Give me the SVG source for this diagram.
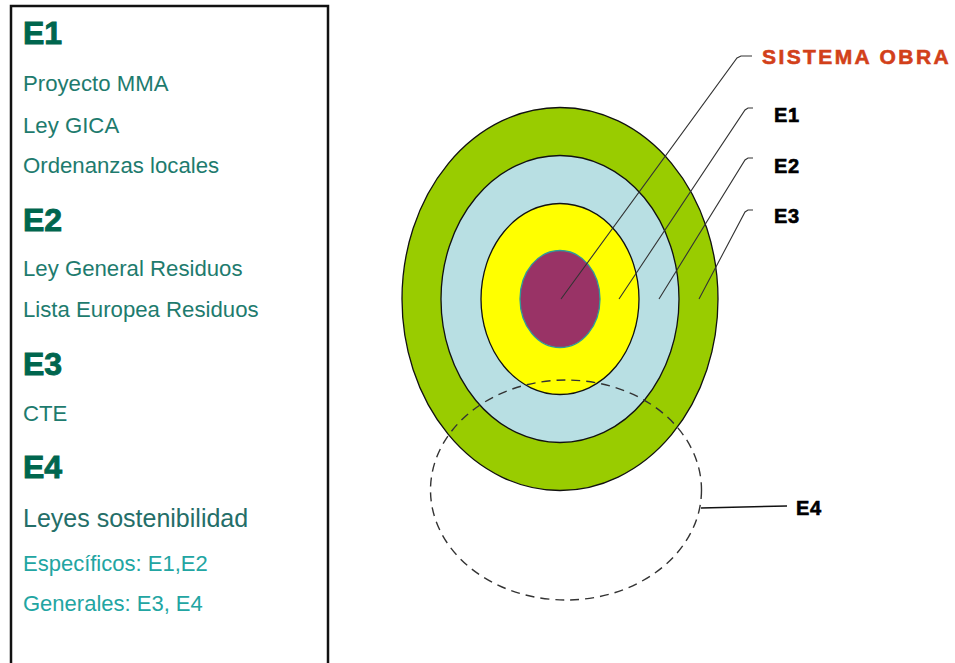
<svg xmlns="http://www.w3.org/2000/svg" width="955" height="663" viewBox="0 0 955 663">
<style>
.h{font-family:"Liberation Sans",Arial,sans-serif;font-weight:bold;font-size:32px;fill:#00664E;stroke:#00664E;stroke-width:0.9px}
.it{font-family:"Liberation Sans",Arial,sans-serif;font-size:22.2px;fill:#1E7B6E}
.it2{font-family:"Liberation Sans",Arial,sans-serif;font-size:22px;fill:#22A5A2}
.lab{font-family:"Liberation Sans",Arial,sans-serif;font-weight:bold;font-size:20px;fill:#000;stroke:#000;stroke-width:0.6px;letter-spacing:0.6px}
.ring{stroke:#111;stroke-width:1.3}
.lead{fill:none;stroke:#333;stroke-width:1.1}
</style>
<rect width="955" height="663" fill="#fff"/>
<g id="panel">
<rect x="11" y="6" width="317" height="670" fill="#fff" stroke="#111" stroke-width="2.5"/>
<text class="h" x="23" y="44">E1</text>
<text class="it" x="23" y="91">Proyecto MMA</text>
<text class="it" x="23" y="133">Ley GICA</text>
<text class="it" x="23" y="173">Ordenanzas locales</text>
<text class="h" x="23" y="231">E2</text>
<text class="it" x="23" y="276">Ley General Residuos</text>
<text class="it" x="23" y="317">Lista Europea Residuos</text>
<text class="h" x="23" y="375">E3</text>
<text class="it" x="23" y="421">CTE</text>
<text class="h" x="23" y="478">E4</text>
<text x="23" y="527" style="font-family:'Liberation Sans',Arial,sans-serif;font-size:25px;fill:#246E68">Leyes sostenibilidad</text>
<text class="it2" x="23" y="571">Específicos: E1,E2</text>
<text class="it2" x="23" y="611">Generales: E3, E4</text>
</g>
<g id="E3-ring"><ellipse class="ring" cx="560" cy="299" rx="158" ry="191.5" fill="#99CC00"/></g>
<g id="E2-ring"><ellipse class="ring" cx="560" cy="299" rx="119" ry="143.5" fill="#B8DFE3"/></g>
<g id="E1-ring"><ellipse class="ring" cx="560" cy="299" rx="79" ry="95.5" fill="#FFFF00"/></g>
<g id="sistema-obra"><ellipse cx="560" cy="299" rx="40" ry="48.5" fill="#993366" stroke="#2E9A9A" stroke-width="1.3"/></g>
<g id="E4-ring"><ellipse cx="566" cy="490" rx="135.5" ry="110" fill="none" stroke="#333" stroke-width="1.4" stroke-dasharray="9,6"/></g>
<g id="connectors">
<polyline class="lead" points="561,299 737,58 741,56 752,56"/>
<polyline class="lead" points="619,299 745,110 748,108 753,108"/>
<polyline class="lead" points="659,299 745,160 748,158 753,158"/>
<polyline class="lead" points="699,299 745,212 748,210 753,210"/>
<line x1="701" y1="508" x2="787" y2="506" stroke="#111" stroke-width="1.5"/>
</g>
<g id="labels">
<text x="762" y="64" style="font-family:'Liberation Sans',Arial,sans-serif;font-weight:bold;font-size:21px;fill:#D2401A;stroke:#D2401A;stroke-width:0.6px;letter-spacing:2.4px">SISTEMA OBRA</text>
<text class="lab" x="774" y="122">E1</text>
<text class="lab" x="774" y="173">E2</text>
<text class="lab" x="774" y="223">E3</text>
<text class="lab" x="796" y="515">E4</text>
</g>
</svg>
